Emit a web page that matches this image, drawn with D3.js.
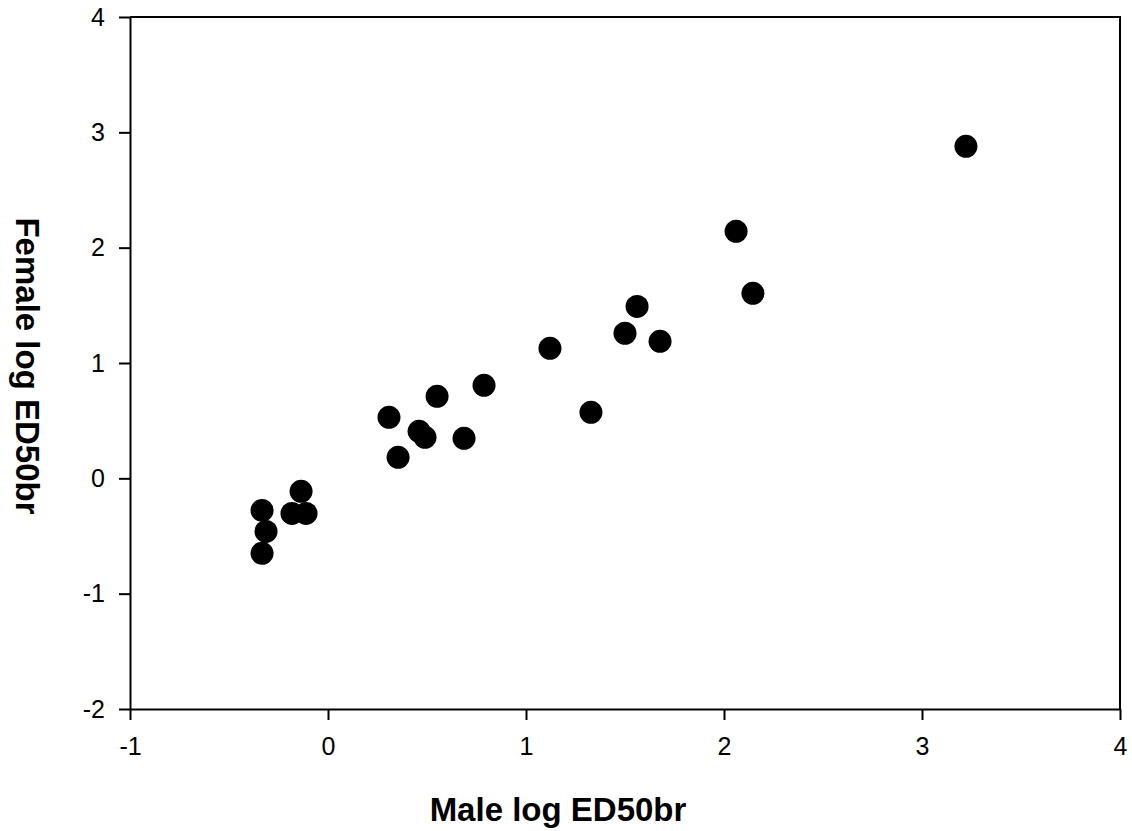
<!DOCTYPE html>
<html>
<head>
<meta charset="UTF-8">
<title>Male vs Female log ED50br</title>
<script src="https://cdn.jsdelivr.net/npm/d3@7"></script>
<style>
  body { margin: 0; background: #fff; }
  text { font-family: "Liberation Sans", Arial, sans-serif; }
</style>
</head>
<body>
<div id="chart"></div>
<script>
// data
var maleLog = [-0.333, -0.313, -0.333, -0.136, -0.182, -0.111,
               0.308, 0.354, 0.551, 0.788, 0.46, 0.49, 0.687,
               1.121, 1.328, 1.5, 1.561, 1.677, 2.061, 2.146, 3.222];
var femaleLog = [-0.278, -0.46, -0.65, -0.113, -0.304, -0.304,
                 0.529, 0.182, 0.711, 0.807, 0.408, 0.356, 0.347,
                 1.127, 0.572, 1.258, 1.49, 1.188, 2.142, 1.604, 2.879];
var xTicks = [-1, 0, 1, 2, 3, 4];
var yTicks = [-2, -1, 0, 1, 2, 3, 4];

var W = 1132, H = 831;
var mLeft = 130, mRight = 1120, mTop = 17, mBottom = 709;

var svg = d3.select("#chart").append("svg")
    .attr("width", W).attr("height", H);

var x = d3.scaleLinear().domain([-1, 4]).range([mLeft, mRight]);
var y = d3.scaleLinear().domain([-2, 4]).range([mBottom, mTop]);

// frame (top + right)
svg.append("path")
    .attr("d", "M" + mLeft + "," + mTop + "H" + mRight + "V" + mBottom)
    .attr("fill", "none").attr("stroke", "#000").attr("stroke-width", 2);

var xAxis = svg.append("g")
    .attr("transform", "translate(0," + mBottom + ")")
    .call(d3.axisBottom(x).tickValues(xTicks).tickSize(11).tickPadding(17).tickSizeOuter(0));
var yAxis = svg.append("g")
    .attr("transform", "translate(" + mLeft + ",0)")
    .call(d3.axisLeft(y).tickValues(yTicks).tickSize(11).tickPadding(14).tickSizeOuter(0));

[xAxis, yAxis].forEach(function (g) {
    g.attr("font-size", null).attr("font-family", null);
    g.select(".domain").attr("stroke-width", 2).attr("stroke", "#000");
    g.selectAll(".tick line").attr("stroke-width", 2).attr("stroke", "#000");
    g.selectAll(".tick text")
        .style("font-size", "25px")
        .style("font-family", "'Liberation Sans', Arial, sans-serif")
        .attr("fill", "#000")
        .text(function (d) { return d < 0 ? "-" + Math.abs(d) : String(d); });
});

// points
var pts = d3.zip(maleLog, femaleLog);
svg.append("g").selectAll("circle")
    .data(pts).enter()
    .append("circle")
    .attr("cx", function (d) { return x(d[0]); })
    .attr("cy", function (d) { return y(d[1]); })
    .attr("r", 11.5)
    .attr("fill", "#000");

// axis titles
svg.append("text")
    .attr("x", 558).attr("y", 821)
    .attr("text-anchor", "middle")
    .style("font-size", "33px").style("font-weight", "bold")
    .text("Male log ED50br");
svg.append("text")
    .attr("transform", "translate(16,366) rotate(90)")
    .attr("text-anchor", "middle")
    .style("font-size", "33px").style("font-weight", "bold")
    .text("Female log ED50br");
</script>
</body>
</html>
